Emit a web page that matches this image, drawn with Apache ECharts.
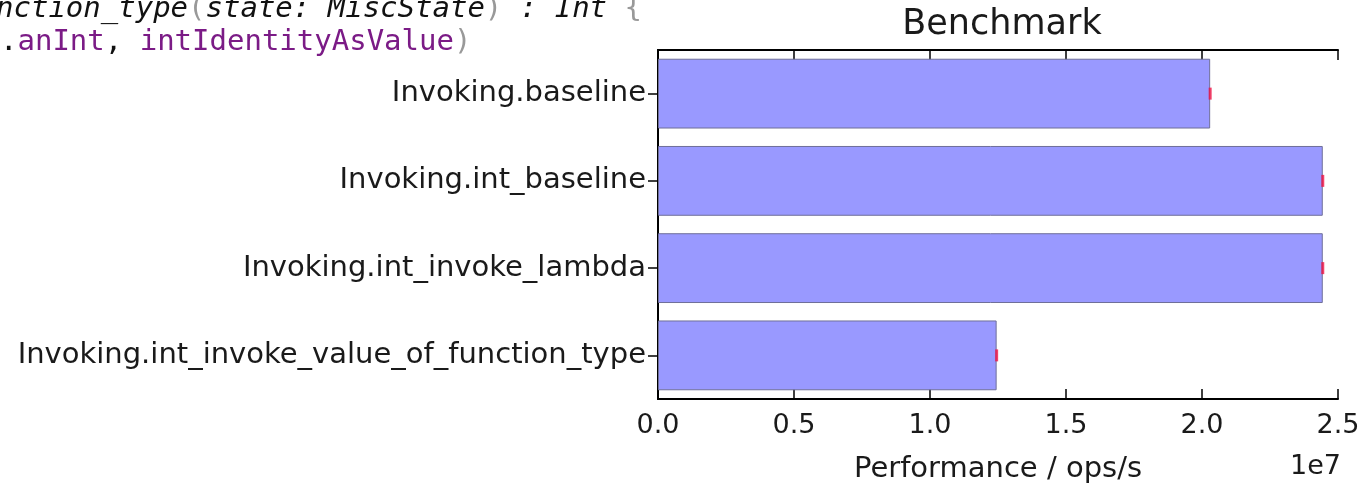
<!DOCTYPE html>
<html>
<head>
<meta charset="utf-8">
<script src="https://cdn.jsdelivr.net/npm/echarts@6/dist/echarts.min.js"></script>
<style>
html,body{margin:0;padding:0;background:#fff;}
#chart{width:1363px;height:484px;}
</style>
</head>
<body>
<div id="chart"></div>
<script>
// ---- data ----
const categories = [
  'Invoking.baseline',
  'Invoking.int_baseline',
  'Invoking.int_invoke_lambda',
  'Invoking.int_invoke_value_of_function_type'
];
const performance = [2.03e7, 2.444e7, 2.444e7, 1.245e7];
const chartTitle = 'Benchmark';
const xAxisLabel = 'Performance / ops/s';
const offsetLabel = '1e7';

const FONT = '"DejaVu Sans", sans-serif';
const MONO = '"DejaVu Sans Mono", monospace';

const chart = echarts.init(document.getElementById('chart'), null, {renderer: 'canvas'});

const axisLineStyle = {color: '#000', width: 2};
const tickStyle = {color: '#000', width: 1.5};

const option = {
  animation: false,
  backgroundColor: '#fff',
  title: {
    text: chartTitle,
    left: 997, top: 2,
    textAlign: 'center',
    textStyle: {fontFamily: FONT, fontSize: 35, fontWeight: 'normal', color: '#1a1a1a'}
  },
  grid: {left: 658, right: 25, top: 50, bottom: 85, containLabel: false, outerBoundsMode: 'none'},
  xAxis: [{
    type: 'value', min: 0, max: 2.5e7, interval: 0.5e7,
    position: 'bottom',
    name: xAxisLabel, nameLocation: 'middle', nameGap: 56,
    nameTextStyle: {fontFamily: FONT, fontSize: 29, color: '#1a1a1a'},
    axisLine: {show: true, lineStyle: axisLineStyle},
    axisTick: {show: true, inside: true, length: 10, lineStyle: tickStyle},
    splitLine: {show: false},
    axisLabel: {
      fontFamily: FONT, fontSize: 27, color: '#1a1a1a', margin: 13,
      formatter: v => (v / 1e7).toFixed(1)
    }
  }, {
    type: 'value', min: 0, max: 2.5e7, interval: 0.5e7,
    position: 'top',
    axisLine: {show: true, lineStyle: axisLineStyle},
    axisTick: {show: true, inside: true, length: 10, lineStyle: tickStyle},
    splitLine: {show: false},
    axisLabel: {show: false}
  }],
  yAxis: [{
    type: 'category', data: categories, inverse: true,
    position: 'left',
    axisLine: {show: true, lineStyle: axisLineStyle},
    axisTick: {show: true, inside: true, alignWithLabel: true, length: 10, lineStyle: tickStyle},
    axisLabel: {fontFamily: FONT, fontSize: 29, color: '#1a1a1a', margin: 12}
  }, {
    type: 'category', data: categories, inverse: true,
    position: 'right',
    axisLine: {show: true, lineStyle: axisLineStyle},
    axisTick: {show: true, inside: true, alignWithLabel: true, length: 10, lineStyle: tickStyle},
    axisLabel: {show: false}
  }],
  series: [{
    type: 'bar',
    data: performance,
    xAxisIndex: 0, yAxisIndex: 0,
    barWidth: '80%',
    itemStyle: {color: '#9999ff', borderColor: '#6f6f99', borderWidth: 1},
    z: 2
  }, {
    type: 'scatter',
    data: performance.map((v, i) => [v, categories[i]]),
    xAxisIndex: 0, yAxisIndex: 0,
    symbol: 'rect', symbolSize: [3, 12],
    itemStyle: {color: '#ee1144'},
    z: 3
  }],
  graphic: [{
    type: 'text', left: 1290, top: 453,
    style: {text: offsetLabel, fontFamily: FONT, fontSize: 27, fill: '#1a1a1a'}
  }, {
    type: 'text', x: -4, y: -5,
    style: {
      text: '{i|nction_type}{p|(}{i|state: MiscState}{p|)}{i| : Int }{p|{}',
      rich: {
        i: {fontFamily: MONO, fontSize: 29, fontStyle: 'italic', fill: '#111'},
        p: {fontFamily: MONO, fontSize: 29, fill: '#999'}
      }
    }
  }, {
    type: 'text', x: 0, y: 28,
    style: {
      text: '{k|.}{v|anInt}{k|, }{v|intIdentityAsValue}{p|)}',
      rich: {
        k: {fontFamily: MONO, fontSize: 29, fill: '#111'},
        v: {fontFamily: MONO, fontSize: 29, fill: '#7b1b86'},
        p: {fontFamily: MONO, fontSize: 29, fill: '#999'}
      }
    }
  }]
};
chart.setOption(option);
</script>
</body>
</html>
